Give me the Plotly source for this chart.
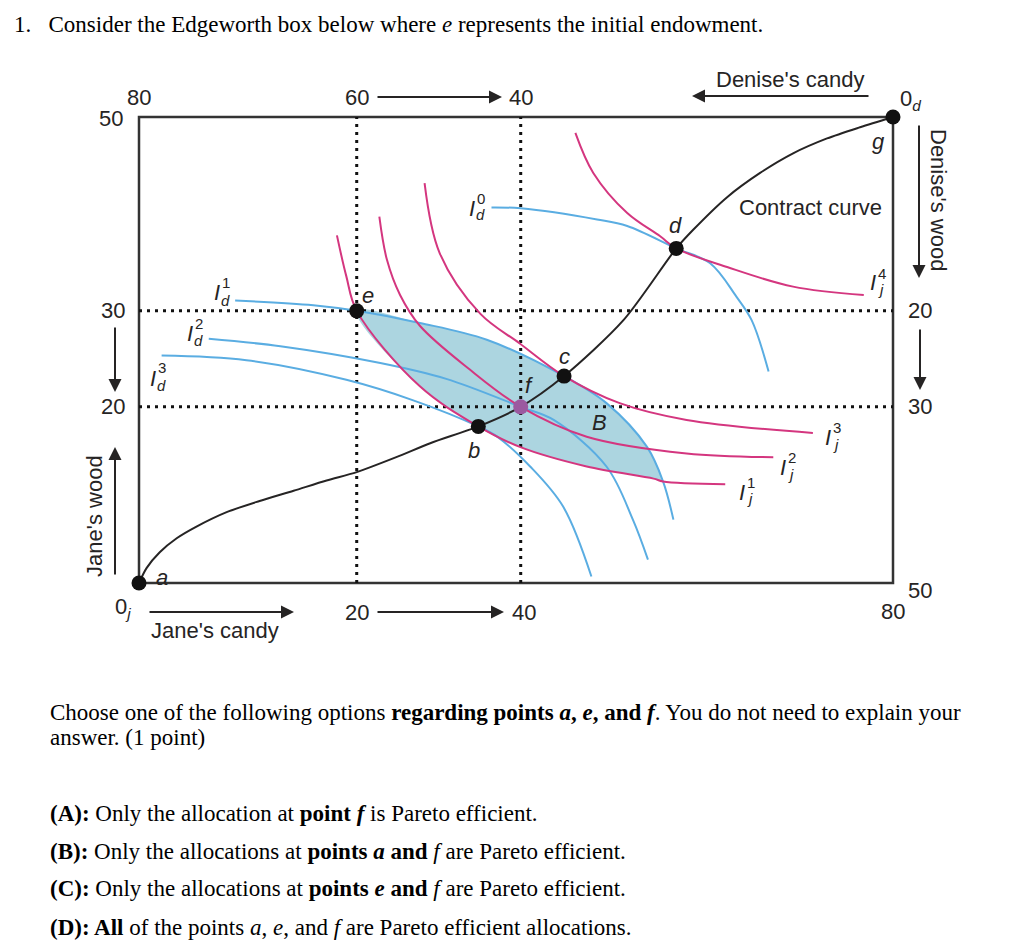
import plotly.graph_objects as go

# ---------------- data (Jane's candy / Jane's wood units) ----------------
CANDY_TOTAL = 80
WOOD_TOTAL = 50

point_names = ["a", "b", "c", "d", "e", "f", "g"]
point_candy = [0.0, 36.0, 45.1, 57.0, 23.1, 40.5, 80.0]
point_wood = [0.0, 16.8, 22.2, 35.9, 29.2, 18.9, 50.0]

contract_candy = [0, 0.8, 2.2, 4.0, 6.0, 9.3, 12.8, 16.4, 19.9, 23.1, 27.3, 30.9, 36.0,
                  40.5, 45.1, 51.4, 57.0, 58.8, 62.4, 65.9, 69.4, 73.0, 76.5, 80]
contract_wood = [0, 1.6, 3.3, 4.8, 6.0, 7.6, 8.8, 9.9, 11.0, 11.9, 13.5, 15.0, 16.8,
                 18.9, 22.2, 28.2, 35.9, 37.9, 41.4, 44.0, 46.1, 47.7, 48.9, 50]

# Jane's indifference curves (pink)
ij1_candy = [21.0, 22.0, 23.1, 29.8, 36.0, 40.4, 47.5, 54.6, 55.6, 62.2]
ij1_wood = [37.3, 32.9, 29.2, 21.1, 16.8, 14.6, 12.5, 11.2, 10.9, 10.6]
ij2_candy = [25.5, 26.3, 27.7, 29.8, 35.1, 40.5, 47.5, 58.1, 67.3]
ij2_wood = [39.3, 34.7, 30.9, 27.6, 22.9, 18.9, 15.7, 13.9, 13.5]
ij3_candy = [30.3, 31.9, 36.2, 40.4, 45.1, 51.0, 58.1, 71.5]
ij3_wood = [42.9, 35.4, 28.9, 25.7, 22.2, 19.3, 17.5, 16.1]
ij4_candy = [46.3, 48.2, 51.8, 55.3, 57.0, 62.4, 69.4, 76.9]
ij4_wood = [48.3, 44.0, 39.7, 37.2, 35.9, 33.9, 31.8, 30.9]

# Denise's indifference curves (blue)
id0_candy = [37.4, 40.5, 48.6, 51.8, 57.0, 60.6, 63.4, 65.0, 66.8]
id0_wood = [40.3, 40.2, 39.0, 38.3, 35.9, 34.3, 30.7, 28.2, 22.7]
id1_candy = [10.2, 18.5, 23.1, 29.8, 36.9, 45.1, 49.6, 53.9, 55.6, 56.7]
id1_wood = [30.3, 29.8, 29.2, 27.9, 26.1, 22.2, 19.3, 14.6, 10.9, 6.8]
id2_candy = [7.4, 15.0, 25.6, 32.6, 40.5, 44.0, 49.6, 52.4, 54.0]
id2_wood = [26.2, 25.4, 23.6, 21.9, 18.9, 17.5, 12.5, 6.8, 2.5]
id3_candy = [2.4, 11.4, 22.0, 29.1, 36.0, 38.0, 41.5, 45.0, 48.0]
id3_wood = [24.4, 23.9, 21.8, 19.6, 16.8, 15.7, 12.5, 8.2, 0.7]

# lens B: I_d^1 and I_j^1 between e (index 2) and their crossing (index 8)
LENS_START, LENS_END = 2, 8

# tick labels at the dotted lines (through e and f)
jane_candy_ticks = ["20", "40"]
denise_candy_ticks = ["60", "40"]
jane_wood_ticks = ["30", "20"]
denise_wood_ticks = ["20", "30"]

# ---------------- layout helpers ----------------
W, H = 1012, 948
BOX_L, BOX_R, BOX_T, BOX_B = 139, 893, 117, 583
sx = (BOX_R - BOX_L) / CANDY_TOTAL
sy = (BOX_B - BOX_T) / WOOD_TOTAL
x_range = [-BOX_L / sx, (W - BOX_L) / sx]
y_range = [-(H - BOX_B) / sy, BOX_B / sy]

BLUE = "#5aade2"
PINK = "#d4367f"
SHADE = "#acd5e0"
INK = "#262424"
SANS = "Liberation Sans, Arial, sans-serif"
SERIF = "Liberation Serif, Times New Roman, serif"
QSIZE = 23


def PX(x):
    return x / W


def PY(y):
    return 1 - y / H


fig = go.Figure()

# shaded lens B
lens_x = id1_candy[LENS_START:LENS_END + 1] + ij1_candy[LENS_START:LENS_END + 1][::-1]
lens_y = id1_wood[LENS_START:LENS_END + 1] + ij1_wood[LENS_START:LENS_END + 1][::-1]
fig.add_trace(go.Scatter(x=lens_x, y=lens_y, mode="lines", fill="toself", fillcolor=SHADE,
                         line=dict(width=0, shape="spline"), hoverinfo="skip"))

# dotted guide lines through e and f
e_i, f_i = point_names.index("e"), point_names.index("f")
for xv in (point_candy[e_i], point_candy[f_i]):
    fig.add_trace(go.Scatter(x=[xv, xv], y=[0, WOOD_TOTAL], mode="lines",
                             line=dict(color="#111", width=3, dash="3px,5px"), hoverinfo="skip"))
for yv in (point_wood[e_i], point_wood[f_i]):
    fig.add_trace(go.Scatter(x=[0, CANDY_TOTAL], y=[yv, yv], mode="lines",
                             line=dict(color="#111", width=3, dash="3px,5px"), hoverinfo="skip"))

for cx, cy in [(id0_candy, id0_wood), (id1_candy, id1_wood), (id2_candy, id2_wood), (id3_candy, id3_wood)]:
    fig.add_trace(go.Scatter(x=cx, y=cy, mode="lines",
                             line=dict(color=BLUE, width=2, shape="spline"), hoverinfo="skip"))
for cx, cy in [(ij1_candy, ij1_wood), (ij2_candy, ij2_wood), (ij3_candy, ij3_wood), (ij4_candy, ij4_wood)]:
    fig.add_trace(go.Scatter(x=cx, y=cy, mode="lines",
                             line=dict(color=PINK, width=2, shape="spline"), hoverinfo="skip"))

fig.add_trace(go.Scatter(x=contract_candy, y=contract_wood, mode="lines",
                         line=dict(color=INK, width=2, shape="spline", smoothing=0.8), hoverinfo="skip"))

marker_colors = ["#9b5aa0" if n == "f" else "#111" for n in point_names]
fig.add_trace(go.Scatter(x=point_candy, y=point_wood, mode="markers",
                         marker=dict(color=marker_colors, size=15, line=dict(width=0)), hoverinfo="skip"))

# box
fig.add_shape(type="rect", x0=0, y0=0, x1=CANDY_TOTAL, y1=WOOD_TOTAL, xref="x", yref="y",
              line=dict(color="#333", width=2.5), layer="below")

ann = []


def T(text, x, y, size=22, font=SANS, color=INK, xanchor="center", yanchor="middle", angle=0,
      xref="paper", yref="paper"):
    ann.append(dict(text=text, x=x, y=y, xref=xref, yref=yref, showarrow=False,
                    font=dict(family=font, size=size, color=color), xanchor=xanchor,
                    yanchor=yanchor, textangle=angle))


def ARROW(x0, y0, x1, y1):
    ann.append(dict(text="", x=PX(x1), y=PY(y1), xref="paper", yref="paper", showarrow=True,
                    ax=x0 - x1, ay=y0 - y1, axref="pixel", ayref="pixel",
                    arrowhead=2, arrowsize=1.3, arrowwidth=2, arrowcolor=INK, standoff=0))


# tick labels at dotted lines
ex, fx = point_candy[e_i], point_candy[f_i]
ey, fy = point_wood[e_i], point_wood[f_i]
T(jane_candy_ticks[0], ex, PY(612), xref="x")
T(jane_candy_ticks[1], fx + 0.3, PY(612), xref="x")
T(denise_candy_ticks[0], ex, PY(97), xref="x")
T(denise_candy_ticks[1], fx, PY(97), xref="x")
T(jane_wood_ticks[0], PX(113), ey, yref="y")
T(jane_wood_ticks[1], PX(113), fy, yref="y")
T(denise_wood_ticks[0], PX(920), ey, yref="y")
T(denise_wood_ticks[1], PX(920), fy, yref="y")

# corner numbers
T("80", PX(139), PY(97))
T("50", PX(111), PY(119))
T("50", PX(920), PY(590))
T("80", PX(893), PY(611))

# arrows
ARROW(376, 97, 502, 97)
ARROW(376, 612, 504, 612)
ARROW(870, 96, 692, 96)
ARROW(148, 612, 294, 612)
ARROW(115, 326, 115, 392)
ARROW(920, 328, 920, 390)
ARROW(115, 576, 115, 447)
ARROW(919, 124, 919, 278)

# axis titles
T("Denise's candy", PX(790), PY(80))
T("Jane's candy", PX(215), PY(630))
T("Jane's wood", PX(94), PY(516), angle=-90)
T("Denise's wood", PX(938), PY(200), angle=90)
T("0<sub><i>j</i></sub>", PX(123), PY(608))
T("0<sub><i>d</i></sub>", PX(910), PY(100))
T("Contract curve", PX(810), PY(207))

# point labels
for txt, x, y in [("a", 162, 577), ("b", 474, 450), ("c", 564, 356), ("d", 675, 226),
                  ("e", 368, 295), ("f", 529, 385), ("g", 878, 141), ("B", 599, 423)]:
    T("<i>%s</i>" % txt, PX(x), PY(y))

# indifference curve labels
for sup, sub, x, y in [("0", "d", 472, 208), ("1", "d", 217, 293), ("2", "d", 190, 333),
                       ("3", "d", 153, 378), ("4", "j", 873, 283), ("3", "j", 828, 437),
                       ("2", "j", 783, 467), ("1", "j", 742, 492)]:
    T("<i>I</i>", PX(x), PY(y), size=22)
    T(sup, PX(x + 9), PY(y - 10), size=15)
    T("<i>%s</i>" % sub, PX(x + 8), PY(y + 7), size=15)

# question text
T("1.\u00a0\u00a0 Consider the Edgeworth box below where <i>e</i> represents the initial endowment.",
  PX(12), PY(25), size=QSIZE, font=SERIF, color="#000", xanchor="left")
T("Choose one of the following options <b>regarding points <i>a</i>, <i>e</i>, and <i>f</i></b>. "
  "You do not need to explain your", PX(48), PY(712), size=QSIZE, font=SERIF, color="#000", xanchor="left")
T("answer. (1 point)", PX(48), PY(737), size=QSIZE, font=SERIF, color="#000", xanchor="left")
options = [
    "<b>(A):</b> Only the allocation at <b>point <i>f</i></b> is Pareto efficient.",
    "<b>(B):</b> Only the allocations at <b>points <i>a</i> and</b> <i>f</i> are Pareto efficient.",
    "<b>(C):</b> Only the allocations at <b>points <i>e</i> and</b> <i>f</i> are Pareto efficient.",
    "<b>(D): All</b> of the points <i>a</i>, <i>e</i>, and <i>f</i> are Pareto efficient allocations.",
]
for txt, y in zip(options, [813, 851, 888, 927]):
    T(txt, PX(48), PY(y), size=QSIZE, font=SERIF, color="#000", xanchor="left")

fig.update_layout(
    width=W, height=H, margin=dict(l=0, r=0, t=0, b=0),
    paper_bgcolor="white", plot_bgcolor="white", showlegend=False,
    xaxis=dict(range=x_range, visible=False, fixedrange=True),
    yaxis=dict(range=y_range, visible=False, fixedrange=True),
    annotations=ann,
)

fig.write_html("out.html")
